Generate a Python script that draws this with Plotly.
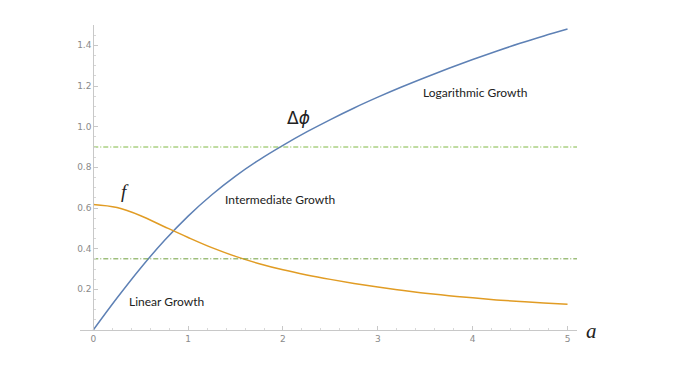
import plotly.graph_objects as go

# values (a in steps of 0.25)
a_vals = [0, 0.25, 0.5, 0.75, 1.0, 1.25, 1.5, 1.75, 2.0, 2.25, 2.5, 2.75, 3.0,
          3.25, 3.5, 3.75, 4.0, 4.25, 4.5, 4.75, 5.0]
dphi_vals = [0, 0.157, 0.305, 0.44, 0.56, 0.665, 0.757, 0.837, 0.908, 0.974, 1.035,
             1.092, 1.145, 1.195, 1.242, 1.287, 1.33, 1.371, 1.41, 1.446, 1.48]
f_vals = [0.617, 0.602, 0.562, 0.508, 0.455, 0.405, 0.362, 0.326, 0.296, 0.271, 0.249,
          0.229, 0.211, 0.195, 0.181, 0.169, 0.158, 0.148, 0.14, 0.133, 0.127]
upper_level = 0.9
lower_level = 0.35
line_x = [0, 5.1]

x_range = [-0.14, 5.1]
y_range = [0, 1.5]

fig = go.Figure()

fig.add_trace(go.Scatter(x=a_vals, y=dphi_vals, mode="lines",
                         line=dict(color="#5E81B5", width=1.5, shape="spline")))
fig.add_trace(go.Scatter(x=a_vals, y=f_vals, mode="lines",
                         line=dict(color="#E19C24", width=1.5, shape="spline")))
fig.add_trace(go.Scatter(x=line_x, y=[upper_level] * 2, mode="lines",
                         line=dict(color="#80B845", width=1, dash="5px,2px,1px,2px")))
fig.add_trace(go.Scatter(x=line_x, y=[lower_level] * 2, mode="lines",
                         line=dict(color="#6E9E3C", width=1, dash="5px,2px,1px,2px")))

labels = [
    ("Linear Growth", 0.77, 0.138),
    ("Intermediate Growth", 1.97, 0.64),
    ("Logarithmic Growth", 4.02, 1.167),
]
for txt, x, y in labels:
    fig.add_annotation(x=x, y=y, text=txt, showarrow=False,
                       font=dict(size=12, family="Lato, Noto Sans, sans-serif", color="#222"))

fig.add_annotation(x=2.16, y=1.045, text="Δ<i>ϕ</i>", showarrow=False,
                   font=dict(size=17, family="DejaVu Sans", color="#222"))
fig.add_annotation(x=0.33, y=0.68, text="<i>f</i>", showarrow=False,
                   font=dict(size=19, family="Liberation Serif", color="#222"))
fig.add_annotation(x=1.045, y=-0.049, xref="paper", yref="paper", text="<i>a</i>",
                   showarrow=False,
                   font=dict(size=21, family="Liberation Serif", color="#222"))

# paper position of x = 0 for the vertical axis
y_axis_pos = (0 - x_range[0]) / (x_range[1] - x_range[0])

fig.update_layout(
    width=684, height=381,
    margin=dict(l=72, r=115, t=17, b=59),
    plot_bgcolor="white", paper_bgcolor="white",
    showlegend=False,
    xaxis=dict(range=x_range, showgrid=False, zeroline=False,
               showline=True, linecolor="#c8c8c8", linewidth=1,
               ticks="inside", ticklen=4, tickcolor="#c8c8c8",
               tickvals=[0, 1, 2, 3, 4, 5],
               minor=dict(dtick=0.2, ticks="inside", ticklen=2, tickcolor="#d8d8d8"),
               tickfont=dict(size=9, color="#8a8a8a", family="DejaVu Sans")),
    yaxis=dict(range=y_range, showgrid=False, zeroline=False,
               anchor="free", position=y_axis_pos,
               showline=True, linecolor="#c8c8c8", linewidth=1,
               ticks="inside", ticklen=4, tickcolor="#c8c8c8",
               tickvals=[0.2, 0.4, 0.6, 0.8, 1.0, 1.2, 1.4],
               ticktext=["0.2", "0.4", "0.6", "0.8", "1.0", "1.2", "1.4"],
               minor=dict(dtick=0.05, ticks="inside", ticklen=2, tickcolor="#d8d8d8"),
               tickfont=dict(size=9, color="#8a8a8a", family="DejaVu Sans")),
)

fig.write_html("out.html")
